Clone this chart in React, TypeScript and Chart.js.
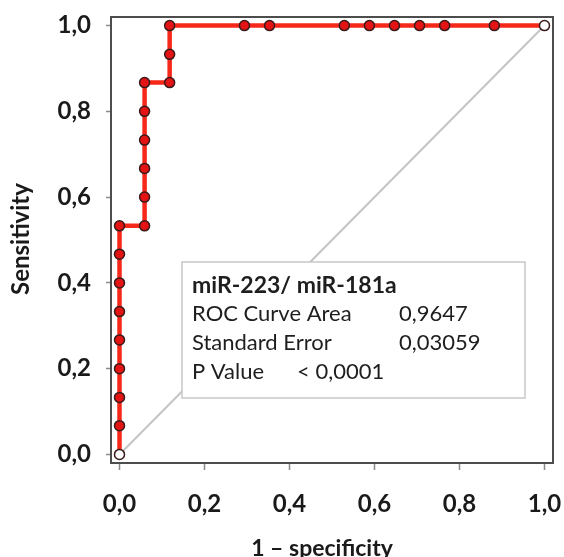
import React, { useEffect, useRef } from 'react';
import { Chart, registerables } from 'chart.js';

Chart.register(...registerables);

// ROC curve points (1 - specificity, sensitivity)
const fpr = [0, 0, 0, 0, 0, 0, 0, 0, 0, 0.059, 0.059, 0.059, 0.059, 0.059, 0.059, 0.118, 0.118, 0.118, 0.294, 0.353, 0.529, 0.588, 0.647, 0.706, 0.765, 0.882, 1.0];
const tpr = [0, 0.067, 0.133, 0.2, 0.267, 0.333, 0.4, 0.467, 0.533, 0.533, 0.6, 0.667, 0.733, 0.8, 0.867, 0.867, 0.933, 1, 1, 1, 1, 1, 1, 1, 1, 1, 1];
// reference diagonal
const diagX = [0, 1];
const diagY = [0, 1];
const tickValues = [0, 0.2, 0.4, 0.6, 0.8, 1.0];

const xTitle = '1 – specificity';
const yTitle = 'Sensitivity';
const legendTitle = 'miR-223/ miR-181a';
const statLabels = ['ROC Curve Area', 'Standard Error', 'P Value'];
const statValues = ['0,9647', '0,03059', '< 0,0001'];

const FONT = 'Lato';
const fmt = (v: number) => v.toFixed(1).replace('.', ',');

export default function App() {
  const ref = useRef<HTMLCanvasElement | null>(null);

  useEffect(() => {
    document.body.style.margin = '0';
    const canvas = ref.current;
    if (!canvas) return;

    const decorations = {
      id: 'decorations',
      beforeDatasetsDraw(chart: any) {
        const { ctx, chartArea: a } = chart;
        ctx.save();
        ctx.strokeStyle = '#4d4d4d';
        ctx.lineWidth = 2;
        ctx.strokeRect(a.left, a.top, a.right - a.left, a.bottom - a.top);
        ctx.restore();
      },
      afterDatasetsDraw(chart: any) {
        const { ctx } = chart;
        const bx = 182, by = 262, bw = 343, bh = 136;
        ctx.save();
        ctx.fillStyle = '#ffffff';
        ctx.fillRect(bx, by, bw, bh);
        ctx.strokeStyle = '#c8c8c8';
        ctx.lineWidth = 1.5;
        ctx.strokeRect(bx, by, bw, bh);
        ctx.fillStyle = '#1e1e1e';
        ctx.textBaseline = 'middle';
        ctx.textAlign = 'left';
        ctx.font = `bold 23px ${FONT}`;
        ctx.fillText(legendTitle, bx + 10, by + 24);
        ctx.font = `22px ${FONT}`;
        const rowY = [by + 52, by + 81, by + 110];
        statLabels.forEach((l, i) => ctx.fillText(l, bx + 10, rowY[i]));
        ctx.fillText(statValues[0], bx + 217, rowY[0]);
        ctx.fillText(statValues[1], bx + 217, rowY[1]);
        ctx.fillText(statValues[2], bx + 115, rowY[2]);
        ctx.restore();
      },
      afterDraw(chart: any) {
        const { ctx } = chart;
        ctx.save();
        ctx.fillStyle = '#1a1a1a';
        ctx.textAlign = 'center';
        ctx.textBaseline = 'alphabetic';
        ctx.font = `bold 23px ${FONT}`;
        ctx.fillText(xTitle, 322, 556);
        ctx.translate(29, 239);
        ctx.rotate(-Math.PI / 2);
        ctx.font = `bold 24px ${FONT}`;
        ctx.fillText(yTitle, 0, 0);
        ctx.restore();
      },
    };

    const setTicks = (scale: any) => {
      scale.ticks = tickValues.map((v) => ({ value: v }));
    };
    const noPad = (s: any) => {
      s.paddingTop = 0;
      s.paddingBottom = 0;
      s.paddingLeft = 0;
      s.paddingRight = 0;
    };

    const tickFont = { family: FONT, size: 24, weight: 'bold' as const };

    const chart = new Chart(canvas, {
      type: 'scatter',
      data: {
        datasets: [
          {
            data: fpr.map((x, i) => ({ x, y: tpr[i] })),
            showLine: true,
            borderColor: '#f5281a',
            borderWidth: 4.5,
            pointRadius: 5,
            pointBorderWidth: 1.5,
            pointBorderColor: '#3a1a1a',
            pointBackgroundColor: fpr.map((_, i) => (i === 0 || i === fpr.length - 1 ? '#ffffff' : '#e41414')),
            tension: 0,
            clip: false as any,
            order: 0,
          },
          {
            data: diagX.map((x, i) => ({ x, y: diagY[i] })),
            showLine: true,
            borderColor: '#c4c4c4',
            borderWidth: 2,
            pointRadius: 0,
            order: 1,
          },
        ],
      },
      options: {
        animation: false,
        responsive: false,
        layout: { padding: { left: 0, top: 17, right: 11, bottom: 0 } },
        plugins: { legend: { display: false }, tooltip: { enabled: false } },
        scales: {
          x: {
            type: 'linear',
            min: -0.02,
            max: 1.02,
            afterBuildTicks: setTicks,
            afterFit: (s: any) => { s.height = 94; noPad(s); },
            border: { display: false },
            grid: { drawOnChartArea: false, tickLength: 7, tickColor: '#8a8a8a', tickWidth: 1.5 },
            ticks: { callback: (v: any) => fmt(Number(v)), font: tickFont, color: '#1a1a1a', padding: 20, maxRotation: 0 },
          },
          y: {
            type: 'linear',
            min: -0.02,
            max: 1.02,
            afterBuildTicks: setTicks,
            afterFit: (s: any) => { s.width = 111; noPad(s); },
            border: { display: false },
            grid: { drawOnChartArea: false, tickLength: 5, tickColor: '#8a8a8a', tickWidth: 1.5 },
            ticks: { callback: (v: any) => fmt(Number(v)), font: tickFont, color: '#1a1a1a', padding: 15 },
          },
        },
      },
      plugins: [decorations],
    });

    return () => chart.destroy();
  }, []);

  return (
    <div style={{ width: 564, height: 557 }}>
      <canvas ref={ref} width={564} height={557} style={{ display: 'block' }} />
    </div>
  );
}
